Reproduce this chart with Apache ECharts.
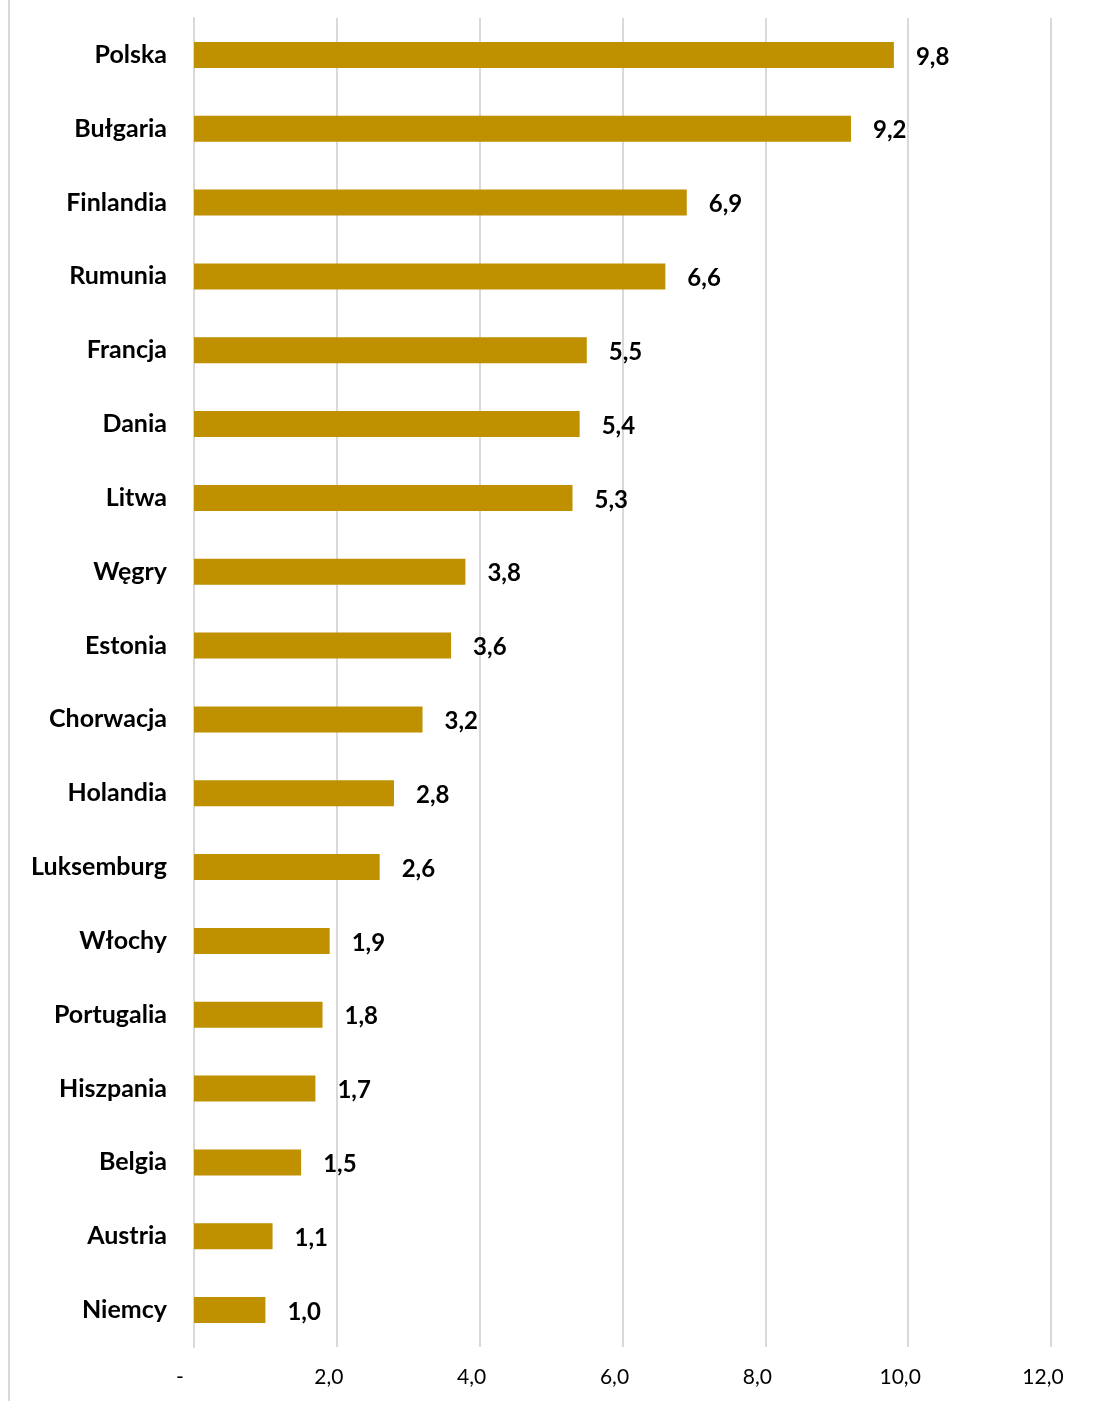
<!DOCTYPE html>
<html>
<head>
<meta charset="utf-8">
<script src="https://cdn.jsdelivr.net/npm/echarts@6/dist/echarts.min.js"></script>
<style>
    html, body { margin: 0; padding: 0; background: #fff; }
    #chart { width: 1105px; height: 1401px; }
</style>
</head>
<body>
<div id="chart"></div>
<script>
// kraje (od góry do dołu)
const countries = ['Polska', 'Bułgaria', 'Finlandia', 'Rumunia', 'Francja', 'Dania', 'Litwa', 'Węgry', 'Estonia',
    'Chorwacja', 'Holandia', 'Luksemburg', 'Włochy', 'Portugalia', 'Hiszpania', 'Belgia', 'Austria', 'Niemcy']
// wartości
const values = [9.8, 9.2, 6.9, 6.6, 5.5, 5.4, 5.3, 3.8, 3.6, 3.2, 2.8, 2.6, 1.9, 1.8, 1.7, 1.5, 1.1, 1.0]
// oś X
const axisMin = 0
const axisMax = 12
const axisStep = 2

var chartDom = document.getElementById('chart');
var myChart = echarts.init(chartDom);
var font = 'Lato, "Open Sans", sans-serif';

var option = {
    animation: false,
    textStyle: { fontFamily: font },
    grid: { left: 194, right: 54, top: 18, bottom: 54, containLabel: false },
    // lewa ramka
    graphic: [{
        type: 'line',
        shape: { x1: 9, y1: 0, x2: 9, y2: 1401 },
        style: { stroke: '#d9d9d9', lineWidth: 2 }
    }],
    xAxis: {
        type: 'value',
        min: axisMin,
        max: axisMax,
        interval: axisStep,
        axisLine: { show: false },
        axisTick: { show: false },
        splitLine: { show: true, lineStyle: { color: '#d9d9d9', width: 2 } },
        axisLabel: {
            margin: 20,
            color: '#000',
            fontSize: 21,
            fontFamily: font,
            formatter: function (v) {
                if (v === 0) return '{d|-}';
                return '{n|' + v.toFixed(1).replace('.', ',') + '}';
            },
            rich: {
                d: { fontSize: 21, color: '#000', padding: [0, 28, 0, 0], fontFamily: font },
                n: { fontSize: 21, color: '#000', padding: [0, 16, 0, 0], fontFamily: font }
            }
        }
    },
    yAxis: {
        type: 'category',
        inverse: true,
        data: countries,
        axisLine: { show: true, lineStyle: { color: '#d9d9d9', width: 2 } },
        axisTick: { show: false },
        axisLabel: {
            margin: 27,
            color: '#000',
            fontSize: 25,
            fontWeight: 'bold',
            fontFamily: font
        }
    },
    series: [{
        type: 'bar',
        data: values,
        barWidth: 26,
        itemStyle: { color: '#bf9000' },
        label: {
            show: true,
            position: 'right',
            distance: 22,
            offset: [0, 2],
            color: '#000',
            fontSize: 24,
            fontWeight: 'bold',
            fontFamily: font,
            formatter: function (p) { return p.value.toFixed(1).replace('.', ','); }
        }
    }]
};

option && myChart.setOption(option);
</script>
</body>
</html>
